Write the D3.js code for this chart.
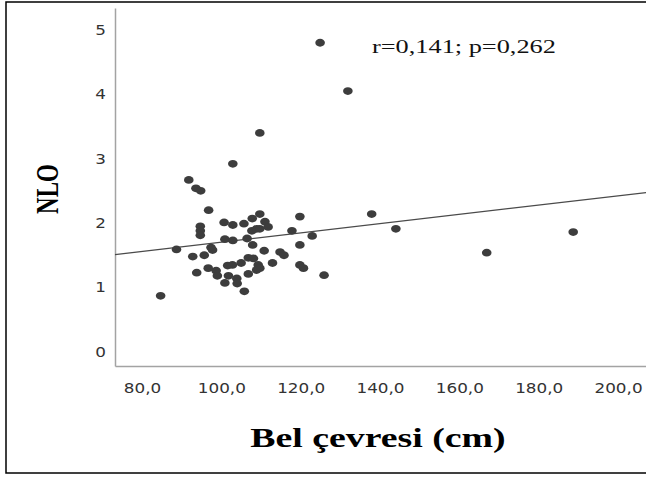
<!DOCTYPE html>
<html lang="tr">
<head>
<meta charset="UTF-8">
<title>NLO - Bel çevresi</title>
<style>
  body { margin: 0; background: #fff; }
  .tick text { fill: #333; font-family: "DejaVu Sans", sans-serif; font-size: 14px; }
  .axis path { stroke: #a3a3a3; stroke-width: 1.5px; }
  .title { font-family: "Liberation Serif", "Times New Roman", serif; font-weight: bold; fill: #000; }
</style>
</head>
<body>
<svg width="646" height="479"></svg>
<script src="https://d3js.org/d3.v7.min.js"></script>
<script>
// waist circumference (cm)
var belCevresi = [124.9, 131.9, 109.7, 102.9, 91.8, 93.6, 94.8, 96.8, 109.7, 119.8,
                  100.7, 102.9, 105.7, 107.8, 111.0, 111.8, 94.7, 94.7, 94.7, 107.7,
                  108.9, 109.7, 117.8, 122.9, 100.9, 102.9, 106.5, 107.9, 88.7, 97.4,
                  97.8, 95.7, 92.8, 110.8, 114.8, 115.8, 119.8, 106.8, 108.1, 105.0,
                  102.8, 101.6, 109.3, 109.7, 112.9, 119.8, 120.7, 93.8, 96.7, 98.7,
                  99.0, 101.8, 103.9, 106.8, 108.9, 125.9, 100.9, 104.0, 105.8, 84.7,
                  137.9, 144.0, 188.7, 166.9];
var nlo = [4.80, 4.05, 3.40, 2.92, 2.67, 2.54, 2.50, 2.20, 2.14, 2.10,
           2.01, 1.97, 1.99, 2.07, 2.02, 1.94, 1.95, 1.88, 1.81, 1.88,
           1.91, 1.91, 1.88, 1.80, 1.75, 1.73, 1.76, 1.66, 1.59, 1.62,
           1.58, 1.50, 1.48, 1.57, 1.55, 1.50, 1.66, 1.46, 1.45, 1.38,
           1.35, 1.34, 1.35, 1.30, 1.38, 1.35, 1.30, 1.23, 1.30, 1.26,
           1.18, 1.18, 1.14, 1.21, 1.27, 1.19, 1.07, 1.06, 0.94, 0.87,
           2.14, 1.91, 1.86, 1.54];
// fit line NLO = a + b * x
var fitIntercept = 0.983, fitSlope = 0.0072;
var xTicks = [80, 100, 120, 140, 160, 180, 200];
var yTicks = [0, 1, 2, 3, 4, 5];
var statText = "r=0,141; p=0,262";

var svg = d3.select("svg");
var stretch = 1.35;

svg.append("rect")
  .attr("x", 6).attr("y", 2)
  .attr("width", 700).attr("height", 471)
  .attr("fill", "none").attr("stroke", "#000").attr("stroke-width", 1.5);

var x = d3.scaleLinear().domain([73.2, 207.3]).range([115, 647]),
    y = d3.scaleLinear().domain([-0.22, 5.34]).range([366, 8]);

var fmt = function(d) { return d.toFixed(1).replace(".", ","); };

svg.append("g")
  .attr("class", "axis")
  .attr("transform", "translate(0,366)")
  .call(d3.axisBottom(x).tickValues(xTicks).tickFormat(fmt).tickSize(0).tickPadding(17))
  .call(function(g) { g.selectAll(".tick text").attr("transform", "scale(1.2,1)"); });

svg.append("g")
  .attr("class", "axis")
  .attr("transform", "translate(115,0)")
  .call(d3.axisLeft(y).tickValues(yTicks).tickFormat(d3.format("d")).tickSize(0).tickPadding(7.5))
  .call(function(g) { g.selectAll(".tick text").attr("transform", "scale(1.2,1)"); });

var line = d3.line()
  .x(function(d) { return x(d); })
  .y(function(d) { return y(fitIntercept + fitSlope * d); });

svg.append("path")
  .attr("d", line(x.domain()))
  .attr("fill", "none")
  .attr("stroke", "#4a4a4a")
  .attr("stroke-width", 1.2);

svg.append("g").selectAll("ellipse")
  .data(d3.range(nlo.length))
  .enter().append("ellipse")
    .attr("cx", function(i) { return x(belCevresi[i]); })
    .attr("cy", function(i) { return y(nlo[i]); })
    .attr("rx", 4.8)
    .attr("ry", 3.9)
    .attr("fill", "#3d3d3d");

svg.append("text")
  .attr("transform", "translate(372,53) scale(" + stretch + ",1)")
  .attr("font-family", "Liberation Serif, Times New Roman, serif")
  .attr("font-size", 19.5)
  .attr("fill", "#111")
  .text(statText);

svg.append("text")
  .attr("class", "title")
  .attr("transform", "translate(378,447) scale(" + stretch + ",1)")
  .attr("text-anchor", "middle")
  .attr("font-size", 28)
  .text("Bel çevresi (cm)");

svg.append("text")
  .attr("class", "title")
  .attr("transform", "translate(58,189) rotate(-90) scale(1," + stretch + ")")
  .attr("text-anchor", "middle")
  .attr("font-size", 23)
  .text("NLO");
</script>
</body>
</html>
